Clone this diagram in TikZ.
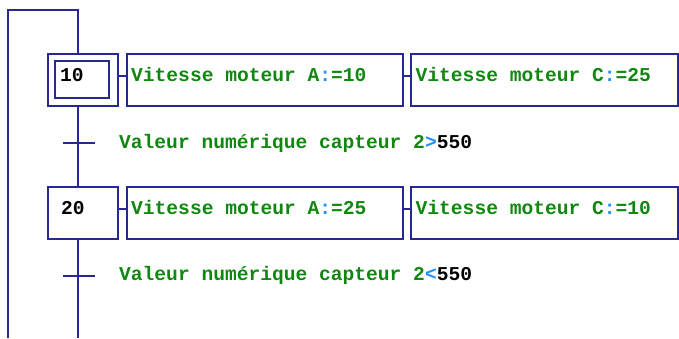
\documentclass[tikz,border=0pt]{standalone}
\usepackage{fontspec}
\newfontfamily\courfont{Liberation Mono}
\definecolor{grline}{RGB}{40,40,145}
\definecolor{grgreen}{RGB}{16,136,16}
\definecolor{grblue}{RGB}{30,144,255}
\begin{document}
\begin{tikzpicture}[x=1pt,y=-1pt,
  wire/.style={draw=grline,line width=2pt,line join=miter},
  box/.style={draw=grline,line width=2pt,fill=white,rectangle,inner sep=0pt,outer sep=0pt},
  txt/.style={anchor=base west,inner sep=0pt,font=\courfont\fontsize{19.6}{22}\selectfont\bfseries},
  act/.style={txt,text=grgreen},
  num/.style={txt,text=black}]
\useasboundingbox (0,0) rectangle (679,338);
% coordinates
\coordinate (tl) at (8,10);
\coordinate (tr) at (78,10);
\coordinate (bl) at (8,338);
\coordinate (bot) at (78,338);
\coordinate (c1) at (0,76);
\coordinate (c2) at (0,209);
\coordinate (t1) at (78,143);
\coordinate (t2) at (78,276);
% left loop and vertical wires
\draw[wire] (bl) -- (tl) -- (tr) -- (78,54);
\draw[wire] (78,106) -- (78,187);
\draw[wire] (78,239) -- (bot);
% steps
\node[box,minimum width=70pt,minimum height=52pt] (s10) at (83,80) {};
\node[box,minimum width=54pt,minimum height=37pt] (s10i) at (82,79.5) {};
\node[box,minimum width=70pt,minimum height=52pt] (s20) at (83,213) {};
% actions
\node[box,minimum width=276pt,minimum height=52pt] (a1) at (265,80) {};
\node[box,minimum width=267pt,minimum height=52pt] (b1) at (544.5,80) {};
\node[box,minimum width=276pt,minimum height=52pt] (a2) at (265,213) {};
\node[box,minimum width=267pt,minimum height=52pt] (b2) at (544.5,213) {};
% action connectors
\draw[wire] (s10.east |- c1) -- (a1.west |- c1);
\draw[wire] (a1.east |- c1) -- (b1.west |- c1);
\draw[wire] (s20.east |- c2) -- (a2.west |- c2);
\draw[wire] (a2.east |- c2) -- (b2.west |- c2);
% transitions
\draw[wire] ([xshift=-15pt]t1) -- ([xshift=17pt]t1);
\draw[wire] ([xshift=-15pt]t2) -- ([xshift=17pt]t2);
% texts
\node[num] (n10) at (60,81) {10};
\node[num] (n20) at (61,214) {20};
\node[act] (ta1) at (131,81) {Vitesse moteur A\textcolor{grblue}{:}=10};
\node[act] (tb1) at (415.5,81) {Vitesse moteur C\textcolor{grblue}{:}=25};
\node[act] (ta2) at (131,214) {Vitesse moteur A\textcolor{grblue}{:}=25};
\node[act] (tb2) at (415.5,214) {Vitesse moteur C\textcolor{grblue}{:}=10};
\node[act] (tt1) at (119,148) {Valeur numérique capteur 2\textcolor{grblue}{>}\textcolor{black}{550}};
\node[act] (tt2) at (119,280.5) {Valeur numérique capteur 2\textcolor{grblue}{<}\textcolor{black}{550}};
\end{tikzpicture}
\end{document}
